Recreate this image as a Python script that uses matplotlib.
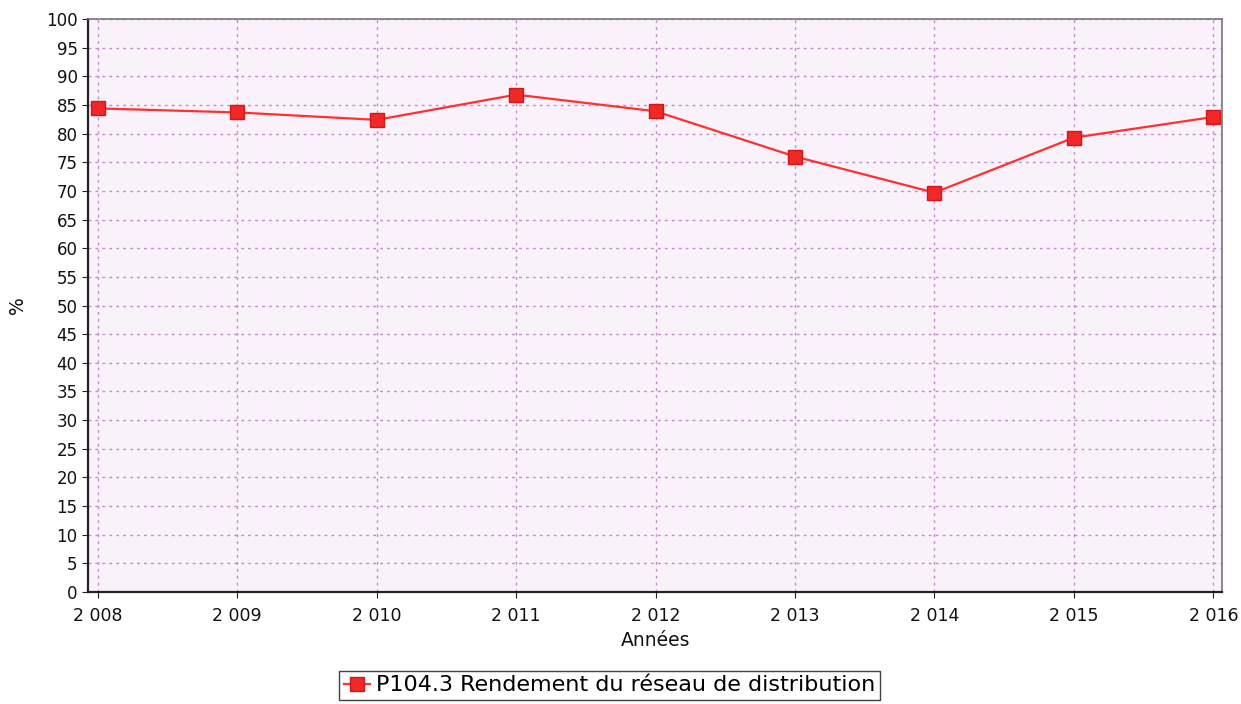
import matplotlib.pyplot as plt
import numpy as np

# data
years = [2008, 2009, 2010, 2011, 2012, 2013, 2014, 2015, 2016]
rendement = [84.4, 83.7, 82.4, 86.8, 83.9, 76.0, 69.7, 79.3, 82.9]
year_labels = ['2 008', '2 009', '2 010', '2 011', '2 012',
               '2 013', '2 014', '2 015', '2 016']
series_name = 'P104.3 Rendement du réseau de distribution'

fig = plt.figure(figsize=(12.41, 7.04), dpi=100)
ax = fig.add_axes([0.071, 0.159, 0.914, 0.814])
ax.set_facecolor('#faf2fa')

ax.plot(years, rendement, color='#ff3030', linewidth=1.6,
        marker='s', markersize=10, markerfacecolor='#f02828',
        markeredgecolor='#d01818', label=series_name, zorder=3)

ax.set_xlim(2008 - 0.07, 2016 + 0.065)
ax.set_ylim(0, 100)
ax.set_xticks(years)
ax.set_xticklabels(year_labels)
ax.set_yticks(np.arange(0, 101, 5))

ax.grid(True, color='#c08cc8', linestyle=(0, (2, 3)), linewidth=1.0)
ax.tick_params(axis='both', labelsize=12, direction='out', length=4,
               color='#222222', labelcolor='#111111')
ax.tick_params(axis='x', labelsize=12.5, pad=7)

for side in ['top', 'right']:
    ax.spines[side].set_color('#777777')
    ax.spines[side].set_linewidth(1.2)
for side in ['left', 'bottom']:
    ax.spines[side].set_color('#222222')
    ax.spines[side].set_linewidth(1.6)

ax.set_xlabel('Années', fontsize=13.5, color='#111111', labelpad=4)
ax.set_ylabel('%', fontsize=13.5, color='#111111', labelpad=14)

fig.legend(loc='upper center', bbox_to_anchor=(0.491, 0.047),
           fontsize=16, frameon=True, fancybox=False, edgecolor='#111111',
           handlelength=1.2, handletextpad=0.25, borderpad=0.2,
           borderaxespad=0)

fig.savefig('out.png', dpi=100)
